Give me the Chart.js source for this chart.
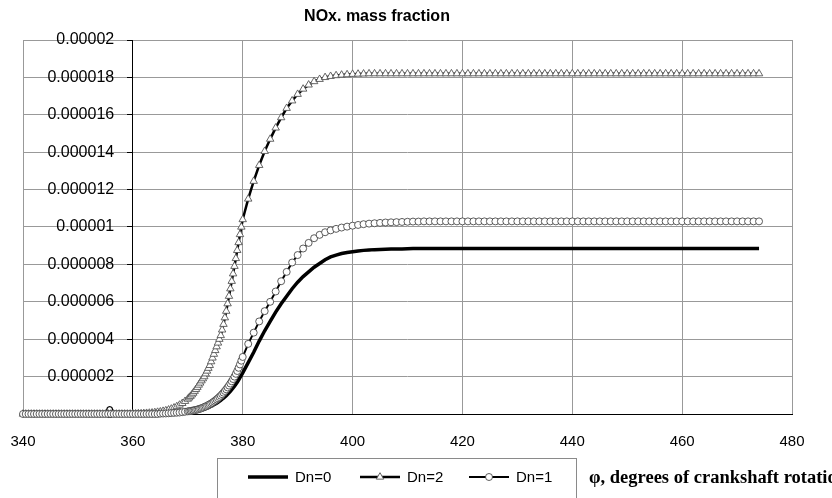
<!DOCTYPE html>
<html>
<head>
<meta charset="utf-8">
<script src="https://cdn.jsdelivr.net/npm/chart.js@4.4.0/dist/chart.umd.min.js"></script>
<style>
html,body{margin:0;padding:0;background:#fff;}
#wrap{width:832px;height:498px;position:relative;overflow:hidden;}
</style>
</head>
<body>
<div id="wrap"><canvas id="c" width="832" height="498"></canvas></div>
<script>
const chartTitle = 'NOx. mass fraction';
const xAxisTitle = 'φ, degrees of crankshaft rotation';
const seriesNames = ['Dn=0', 'Dn=2', 'Dn=1'];
const yTickLabels = ['0','0.000002','0.000004','0.000006','0.000008','0.00001','0.000012','0.000014','0.000016','0.000018','0.00002'];
const valueUnit = 1e-6; // series values below are in units of 1e-6

const angle = [
340,340.5,341,341.5,342,342.5,343,343.5,344,344.5,
345,345.5,346,346.5,347,347.5,348,348.5,349,349.5,
350,350.5,351,351.5,352,352.5,353,353.5,354,354.5,
355,355.5,356,356.5,357,357.5,358,358.5,359,359.5,
360,360.5,361,361.5,362,362.5,363,363.5,364,364.5,
365,365.5,366,366.5,367,367.5,368,368.5,369,369.5,
370,370.25,370.5,370.75,371,371.25,371.5,371.75,372,372.25,
372.5,372.75,373,373.25,373.5,373.75,374,374.25,374.5,374.75,
375,375.25,375.5,375.75,376,376.25,376.5,376.75,377,377.25,
377.5,377.75,378,378.25,378.5,378.75,379,379.25,379.5,379.75,
380,381,382,383,384,385,386,387,388,389,
390,391,392,393,394,395,396,397,398,399,
400,401,402,403,404,405,406,407,408,409,
410,411,412,413,414,415,416,417,418,419,
420,421,422,423,424,425,426,427,428,429,
430,431,432,433,434,435,436,437,438,439,
440,441,442,443,444,445,446,447,448,449,
450,451,452,453,454,455,456,457,458,459,
460,461,462,463,464,465,466,467,468,469,
470,471,472,473,474];

const dn0 = [
0,0,0,0,0,0,0,0,0,0,
0,0,0,0,0,0,0,0,0,0,
0,0,0,0,0,0,0,0,0,0,
0,0,0,0,0,0,0,0,0,0,
0,0,0,0,0,0,0,0,0,0,
0.01,0.01,0.015,0.02,0.025,0.03,0.04,0.05,0.06,0.07,
0.08,0.09,0.1,0.11,0.12,0.13,0.14,0.155,0.17,0.19,
0.21,0.235,0.26,0.285,0.31,0.345,0.38,0.415,0.45,0.49,
0.53,0.575,0.62,0.675,0.73,0.79,0.85,0.915,0.98,1.055,
1.13,1.215,1.3,1.395,1.49,1.595,1.7,1.82,1.94,2.07,
2.2,2.75,3.3,3.9,4.45,4.95,5.45,5.9,6.3,6.7,
7.05,7.35,7.6,7.85,8.05,8.25,8.4,8.5,8.58,8.64,
8.68,8.72,8.75,8.77,8.79,8.8,8.81,8.82,8.83,8.83,
8.84,8.85,8.85,8.85,8.85,8.85,8.85,8.85,8.85,8.85,
8.85,8.85,8.85,8.85,8.85,8.85,8.85,8.85,8.85,8.85,
8.85,8.85,8.85,8.85,8.85,8.85,8.85,8.85,8.85,8.85,
8.85,8.85,8.85,8.85,8.85,8.85,8.85,8.85,8.85,8.85,
8.85,8.85,8.85,8.85,8.85,8.85,8.85,8.85,8.85,8.85,
8.85,8.85,8.85,8.85,8.85,8.85,8.85,8.85,8.85,8.85,
8.85,8.85,8.85,8.85,8.85];

const dn2 = [
0,0,0,0,0,0,0,0,0,0,
0,0,0,0,0,0,0,0,0,0,
0,0,0,0,0,0,0,0,0,0,
0,0,0,0,0,0,0,0,0,0,
0.01,0.01,0.02,0.02,0.03,0.04,0.05,0.06,0.08,0.1,
0.12,0.15,0.18,0.22,0.27,0.33,0.4,0.48,0.57,0.68,
0.8,0.87,0.95,1.03,1.12,1.22,1.32,1.43,1.55,1.66,
1.78,1.89,2.0,2.15,2.3,2.45,2.6,2.8,3.0,3.2,
3.4,3.6,3.8,4.0,4.2,4.5,4.8,5.15,5.5,5.9,
6.3,6.7,7.1,7.5,7.9,8.32,8.75,9.17,9.6,10.0,
10.4,11.5,12.45,13.3,14.05,14.7,15.3,15.85,16.35,16.75,
17.1,17.38,17.6,17.78,17.9,18.0,18.06,18.1,18.13,18.15,
18.17,18.18,18.19,18.2,18.2,18.2,18.2,18.2,18.2,18.2,
18.2,18.2,18.2,18.2,18.2,18.2,18.2,18.2,18.2,18.2,
18.2,18.2,18.2,18.2,18.2,18.2,18.2,18.2,18.2,18.2,
18.2,18.2,18.2,18.2,18.2,18.2,18.2,18.2,18.2,18.2,
18.2,18.2,18.2,18.2,18.2,18.2,18.2,18.2,18.2,18.2,
18.2,18.2,18.2,18.2,18.2,18.2,18.2,18.2,18.2,18.2,
18.2,18.2,18.2,18.2,18.2,18.2,18.2,18.2,18.2,18.2,
18.2,18.2,18.2,18.2,18.2];

const dn1 = [
0,0,0,0,0,0,0,0,0,0,
0,0,0,0,0,0,0,0,0,0,
0,0,0,0,0,0,0,0,0,0,
0,0,0,0,0,0,0,0,0,0,
0,0,0,0,0,0,0,0,0,0,
0.02,0.025,0.03,0.04,0.05,0.06,0.07,0.08,0.1,0.12,
0.14,0.15,0.16,0.175,0.19,0.205,0.22,0.24,0.26,0.285,
0.31,0.34,0.37,0.405,0.44,0.48,0.52,0.565,0.61,0.665,
0.72,0.78,0.84,0.91,0.98,1.06,1.14,1.23,1.32,1.42,
1.52,1.63,1.75,1.87,2.0,2.15,2.3,2.47,2.65,2.85,
3.05,3.75,4.35,4.95,5.5,6.0,6.55,7.1,7.6,8.1,
8.5,8.85,9.15,9.4,9.58,9.72,9.82,9.9,9.97,10.02,
10.07,10.11,10.15,10.18,10.2,10.22,10.24,10.25,10.26,10.27,
10.28,10.29,10.29,10.3,10.3,10.3,10.3,10.3,10.3,10.3,
10.3,10.3,10.3,10.3,10.3,10.3,10.3,10.3,10.3,10.3,
10.3,10.3,10.3,10.3,10.3,10.3,10.3,10.3,10.3,10.3,
10.3,10.3,10.3,10.3,10.3,10.3,10.3,10.3,10.3,10.3,
10.3,10.3,10.3,10.3,10.3,10.3,10.3,10.3,10.3,10.3,
10.3,10.3,10.3,10.3,10.3,10.3,10.3,10.3,10.3,10.3,
10.3,10.3,10.3,10.3,10.3];

function toPoints(vals) {
  return vals.map((v, i) => ({ x: angle[i], y: v * valueUnit }));
}

const FONT = '"Liberation Sans", Arial, sans-serif';

const decorations = {
  id: 'decorations',
  afterDraw(chart) {
    const ctx = chart.ctx;
    const ds = chart.data.datasets;
    const itemX = [248, 360, 469];
    const y = 477;
    ctx.save();
    // chart title
    ctx.font = 'bold 16px ' + FONT;
    ctx.fillStyle = '#000';
    ctx.textAlign = 'center';
    ctx.textBaseline = 'middle';
    ctx.fillText(chartTitle, 377, 17);
    // legend box
    ctx.strokeStyle = '#8a8a8a';
    ctx.lineWidth = 1;
    ctx.strokeRect(217.5, 458.5, 359, 60);
    ctx.font = '15px ' + FONT;
    ctx.textAlign = 'left';
    ds.forEach((d, i) => {
      const x0 = itemX[i];
      ctx.strokeStyle = d.borderColor;
      ctx.lineWidth = d.borderWidth;
      ctx.beginPath(); ctx.moveTo(x0, y); ctx.lineTo(x0 + 40, y); ctx.stroke();
      if (d.pointRadius > 0) {
        const cx = x0 + 20, r = d.pointRadius;
        ctx.fillStyle = d.pointBackgroundColor;
        ctx.strokeStyle = d.pointBorderColor;
        ctx.lineWidth = d.pointBorderWidth;
        ctx.beginPath();
        if (d.pointStyle === 'triangle') {
          ctx.moveTo(cx, y - r);
          ctx.lineTo(cx + r * 0.866, y + r * 0.5);
          ctx.lineTo(cx - r * 0.866, y + r * 0.5);
          ctx.closePath();
        } else {
          ctx.arc(cx, y, r, 0, Math.PI * 2);
        }
        ctx.fill(); ctx.stroke();
      }
      ctx.fillStyle = '#000';
      ctx.fillText(d.label, x0 + 47, y + 1);
    });
    // x axis title (runs off the right edge as in the original)
    ctx.font = 'bold 18.5px "Liberation Serif", "Times New Roman", serif';
    ctx.fillStyle = '#000';
    ctx.fillText(xAxisTitle, 589, y + 1);
    ctx.restore();
  }
};

new Chart(document.getElementById('c'), {
  type: 'line',
  data: {
    datasets: [
      { label: seriesNames[0], data: toPoints(dn0), order: 2,
        borderColor: '#000', borderWidth: 3.5, pointRadius: 0, pointHoverRadius: 0, clip: false },
      { label: seriesNames[1], data: toPoints(dn2), order: 1,
        borderColor: '#000', borderWidth: 2.5, pointStyle: 'triangle', pointRadius: 4.3,
        pointBackgroundColor: '#fff', pointBorderColor: '#555', pointBorderWidth: 0.9, clip: false },
      { label: seriesNames[2], data: toPoints(dn1), order: 0,
        borderColor: '#000', borderWidth: 2, pointStyle: 'circle', pointRadius: 3.5,
        pointBackgroundColor: '#fff', pointBorderColor: '#333', pointBorderWidth: 0.8, clip: false }
    ]
  },
  options: {
    responsive: false,
    animation: false,
    devicePixelRatio: 1,
    layout: { padding: { left: 23, right: 40, top: 40, bottom: 0 } },
    plugins: {
      legend: { display: false },
      tooltip: { enabled: false },
      title: { display: false }
    },
    scales: {
      x: {
        type: 'linear', min: 340, max: 480,
        ticks: { stepSize: 20, color: '#000', padding: 19, font: { family: FONT, size: 15 } },
        grid: { color: '#999', lineWidth: 1, drawTicks: false },
        border: { display: true, color: '#000', width: 1 },
        afterFit(s) { s.height = 84; s.paddingLeft = 0; s.paddingRight = 0; s.paddingTop = 0; s.paddingBottom = 0; }
      },
      y: {
        type: 'linear', axis: 'y', min: 0, max: 0.00002,
        position: { x: 360 },
        ticks: { stepSize: 0.000002, display: false },
        grid: { color: '#999', lineWidth: 1, drawTicks: true, tickLength: 5, tickColor: '#000' },
        border: { display: true, color: '#000', width: 1 },
        afterFit(s) { s.paddingTop = 0; s.paddingBottom = 0; s.paddingLeft = 0; s.paddingRight = 0; }
      },
      yLabels: {
        type: 'linear', axis: 'y', min: 0, max: 0.00002,
        position: { x: 356.6 },
        z: 1,
        ticks: { stepSize: 0.000002, color: '#000', font: { family: FONT, size: 16 },
          callback: (v, i) => yTickLabels[i] },
        grid: { display: false, drawTicks: false },
        border: { display: false },
        afterFit(s) { s.paddingTop = 0; s.paddingBottom = 0; s.paddingLeft = 0; s.paddingRight = 0; }
      }
    }
  },
  plugins: [decorations]
});
</script>
</body>
</html>
